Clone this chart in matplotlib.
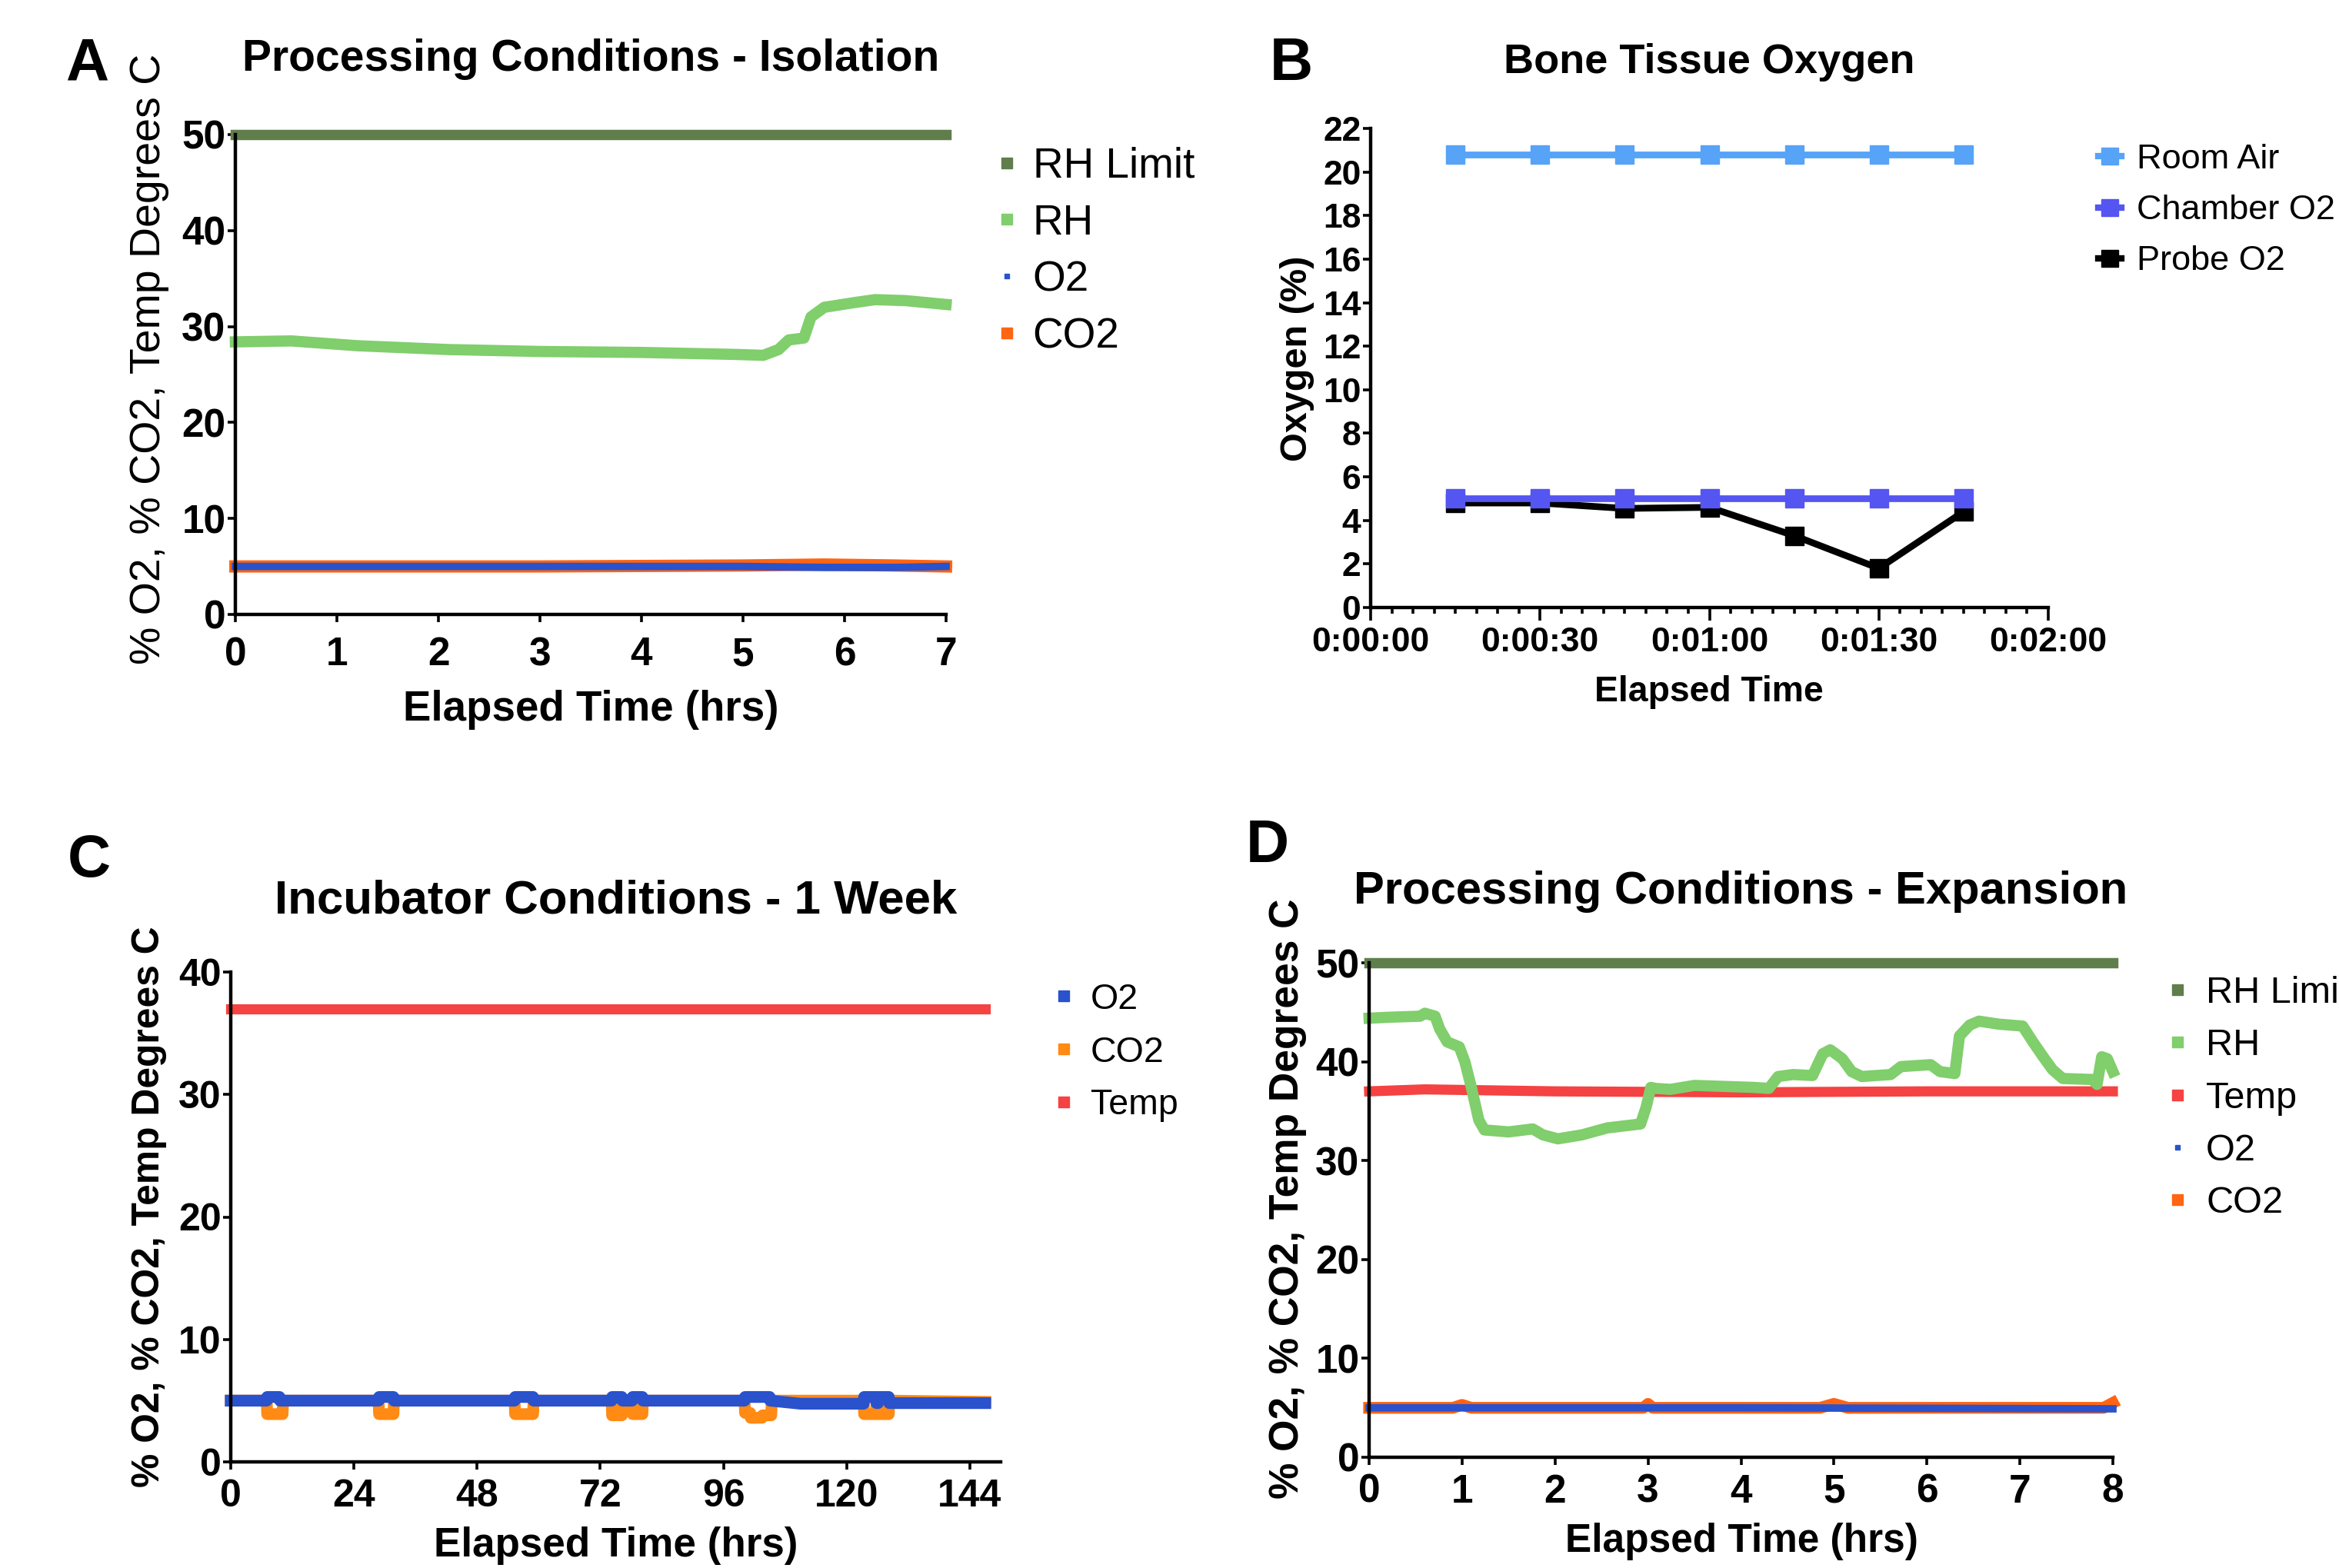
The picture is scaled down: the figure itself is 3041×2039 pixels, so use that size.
import matplotlib
matplotlib.use('Agg')
import matplotlib.pyplot as plt
from matplotlib.lines import Line2D
from matplotlib.ticker import MultipleLocator

# figure size in pixels (dpi 100)
W, H = 3041, 2039

plt.rcParams['font.family'] = ['Liberation Sans', 'DejaVu Sans']

# colours
C_LIMIT = '#5f7e4b'
C_RH = '#80ce6c'
C_O2 = '#2952cc'
C_CO2 = '#ff6512'
C_CO2_C = '#ff8a14'
C_TEMP = '#f54242'
C_ROOM = '#56a3f7'
C_CHAMBER = '#5555f2'
C_PROBE = '#000000'

# ---- A: Processing Conditions - Isolation ----
a_limit_time = [0, 7]
a_limit = [50, 50]
a_rh_time = [0, 0.55, 1.2, 2.1, 3.0, 4.0, 4.9, 5.2, 5.35, 5.45, 5.6, 5.67, 5.8, 6.1, 6.3, 6.6, 7.0]
a_rh = [28.4, 28.5, 28.0, 27.6, 27.4, 27.3, 27.1, 27.0, 27.6, 28.6, 28.8, 31.0, 32.0, 32.5, 32.8, 32.7, 32.3]
a_gas_time = [0, 3.0, 5.0, 5.8, 6.5, 7.0]
a_o2 = [5.0, 5.0, 5.0, 4.9, 4.9, 5.0]
a_co2 = [5.0, 5.0, 5.1, 5.2, 5.1, 5.0]
a_labels = ['RH Limit', 'RH', 'O2', 'CO2']

# ---- B: Bone Tissue Oxygen ----
b_time_s = [15, 30, 45, 60, 75, 90, 105]
b_room = [20.8, 20.8, 20.8, 20.8, 20.8, 20.8, 20.8]
b_chamber = [5.0, 5.0, 5.0, 5.0, 5.0, 5.0, 5.0]
b_probe = [4.8, 4.8, 4.55, 4.6, 3.3, 1.8, 4.4]
b_ticks = [0, 30, 60, 90, 120]
b_tick_labels = ['0:00:00', '0:00:30', '0:01:00', '0:01:30', '0:02:00']
b_labels = ['Room Air', 'Chamber O2', 'Probe O2']

# ---- C: Incubator Conditions - 1 Week ----
c_temp_time = [0, 147]
c_temp = [37.0, 37.0]
c_co2_time = [0, 7.0, 7.1, 10.1, 10.2, 28.8, 28.9, 31.7, 31.8, 55.3,
              55.4, 58.9, 59.0, 74.2, 74.3, 76.2, 76.3, 78.2, 78.3, 80.2,
              80.3, 100.1, 100.2, 101.2, 101.3, 103.5, 103.6, 105.3, 105.4, 123.3,
              123.4, 125.7, 125.8, 126.1, 126.2, 128.2, 128.3, 147]
c_co2 = [5.0, 5.0, 3.9, 3.9, 5.0, 5.0, 3.9, 3.9, 5.0, 5.0,
         3.9, 3.9, 5.0, 5.0, 3.8, 3.8, 5.0, 5.0, 3.9, 3.9,
         5.0, 5.0, 4.0, 4.0, 3.6, 3.6, 3.8, 3.8, 5.0, 5.0,
         3.9, 3.9, 5.0, 5.0, 3.9, 3.9, 5.0, 4.9]
c_o2_time = [0, 7.0, 7.1, 9.5, 9.6, 28.8, 28.9, 31.7, 31.8, 55.3,
             55.4, 58.9, 59.0, 74.2, 74.3, 76.2, 76.3, 78.2, 78.3, 80.2,
             80.3, 100.1, 100.2, 105.0, 105.1, 111, 123.3, 123.4, 125.7, 125.8,
             126.1, 126.2, 128.2, 128.3, 131, 147]
c_o2 = [5.0, 5.0, 5.3, 5.3, 5.0, 5.0, 5.3, 5.3, 5.0, 5.0,
        5.3, 5.3, 5.0, 5.0, 5.3, 5.3, 5.0, 5.0, 5.3, 5.3,
        5.0, 5.0, 5.3, 5.3, 5.0, 4.75, 4.75, 5.3, 5.3, 4.8,
        4.8, 5.3, 5.3, 4.8, 4.8, 4.8]
c_labels = ['O2', 'CO2', 'Temp']

# ---- D: Processing Conditions - Expansion ----
d_limit_time = [0, 8]
d_limit = [50, 50]
d_rh_time = [0, 0.23, 0.55, 0.6, 0.71, 0.76, 0.84, 0.97, 1.03, 1.1,
             1.18, 1.24, 1.5, 1.76, 1.87, 2.03, 2.29, 2.56, 2.92, 2.98,
             3.03, 3.08, 3.24, 3.5, 4.13, 4.3, 4.4, 4.56, 4.77, 4.88,
             4.96, 5.09, 5.19, 5.3, 5.61, 5.72, 6.04, 6.14, 6.3, 6.35,
             6.46, 6.56, 6.77, 7.03, 7.14, 7.25, 7.35, 7.46, 7.78, 7.83,
             7.88, 7.94, 8.0]
d_rh = [44.4, 44.5, 44.6, 44.9, 44.6, 43.3, 42.0, 41.5, 40.0, 37.4,
        34.1, 33.1, 32.9, 33.2, 32.6, 32.2, 32.6, 33.3, 33.7, 35.4,
        37.4, 37.3, 37.2, 37.6, 37.4, 37.3, 38.5, 38.7, 38.6, 40.8,
        41.2, 40.3, 39.0, 38.5, 38.7, 39.5, 39.7, 39.0, 38.8, 42.6,
        43.7, 44.1, 43.8, 43.6, 42.0, 40.5, 39.2, 38.3, 38.2, 37.7,
        40.5, 40.3, 39.0]
d_temp_time = [0, 0.6, 2.0, 4.0, 6.0, 8.0]
d_temp = [37.0, 37.2, 37.0, 36.9, 37.0, 37.0]
d_o2_time = [0, 4.0, 8.0]
d_o2 = [5.0, 5.0, 4.9]
d_co2_time = [0, 0.9, 1.0, 1.1, 2.95, 3.0, 3.05, 4.85, 5.0, 5.15, 7.9, 8.0]
d_co2 = [5.0, 5.0, 5.3, 5.0, 5.0, 5.4, 5.0, 5.0, 5.4, 5.0, 5.0, 5.5]
d_labels = ['RH Limit', 'RH', 'Temp', 'O2', 'CO2']


def fx(px):
    return px / W


def fy(py):
    return 1 - py / H


def make_axes(fig, left, top, right, bottom):
    return fig.add_axes([fx(left), fy(bottom), (right - left) / W, (bottom - top) / H])


def style_axes(ax, tick_size, xpad=8):
    for side in ['top', 'right']:
        ax.spines[side].set_visible(False)
    for side in ['left', 'bottom']:
        ax.spines[side].set_linewidth(3.2)
    ax.tick_params(which='major', direction='out', width=2.6, length=7,
                   labelsize=tick_size)
    ax.tick_params(axis='x', pad=xpad)
    ax.tick_params(axis='y', pad=2)
    for lab in ax.get_xticklabels() + ax.get_yticklabels():
        lab.set_fontweight('bold')


def key(color, ms, line=False):
    return Line2D([], [], color=color, marker='s', markersize=ms,
                  linestyle='-' if line else 'none', linewidth=6)


def add_legend(fig, ax, handles, labels, left, first_center, pitch, size_pt,
               hl=0.5, htp=0.45):
    f = size_pt * 100 / 72
    ls = (pitch - 0.94 * f) / f
    top = first_center - 0.37 * f
    ax.legend(handles, labels, loc='upper left',
              bbox_to_anchor=(fx(left), fy(top)), bbox_transform=fig.transFigure,
              frameon=False, fontsize=size_pt, handlelength=hl,
              handletextpad=htp, labelspacing=ls, borderpad=0, borderaxespad=0)


def panel_text(fig, letter, lx, ly, title, tx, ty, title_size,
               ylabel, yx, yy, ylabel_bold, ylab_size,
               xlabel, xx, xy, xlab_size):
    fig.text(fx(lx), fy(ly), letter, fontweight='bold', fontsize=56,
             ha='left', va='baseline')
    fig.text(fx(tx), fy(ty), title, fontweight='bold', fontsize=title_size,
             ha='center', va='baseline')
    fig.text(fx(yx), fy(yy), ylabel,
             fontweight='bold' if ylabel_bold else 'normal', fontsize=ylab_size,
             rotation=90, ha='center', va='center')
    fig.text(fx(xx), fy(xy), xlabel, fontweight='bold', fontsize=xlab_size,
             ha='center', va='baseline')


fig = plt.figure(figsize=(W / 100, H / 100), dpi=100)

# ---------- A ----------
ax = make_axes(fig, 306, 175, 1230, 799)
ax.plot(a_limit_time, a_limit, color=C_LIMIT, lw=9.7, solid_capstyle='projecting', clip_on=False)
ax.plot(a_rh_time, a_rh, color=C_RH, lw=10.5, clip_on=False)
ax.plot(a_gas_time, a_co2, color=C_CO2, lw=11.5, clip_on=False)
ax.plot(a_gas_time, a_o2, color=C_O2, lw=7, clip_on=False)
ax.set_xlim(0, 7)
ax.set_ylim(0, 50)
ax.set_xticks(range(0, 8))
ax.set_yticks(range(0, 51, 10))
style_axes(ax, 37, xpad=13.5)
add_legend(fig, ax, [key(C_LIMIT, 10.5), key(C_RH, 10.5), key(C_O2, 5), key(C_CO2, 10.5)],
           a_labels, 1296, 211, 73.5, 39.5, hl=0.47, htp=0.38)
panel_text(fig, 'A', 85, 104, 'Processing Conditions - Isolation', 768, 92, 41,
           '% O2, % CO2, Temp Degrees C', 194, 467, False, 40,
           'Elapsed Time (hrs)', 768, 937, 39.3)

# ---------- B ----------
ax = make_axes(fig, 1782, 167, 2663, 790)
ax.plot(b_time_s, b_probe, color=C_PROBE, lw=6.3, marker='s', ms=17, zorder=3, clip_on=False)
ax.plot(b_time_s, b_room, color=C_ROOM, lw=6.3, marker='s', ms=17, zorder=4, clip_on=False)
ax.plot(b_time_s, b_chamber, color=C_CHAMBER, lw=6.3, marker='s', ms=17, zorder=5, clip_on=False)
ax.set_xlim(0, 120)
ax.set_ylim(0, 22)
ax.set_xticks(b_ticks)
ax.set_xticklabels(b_tick_labels)
ax.xaxis.set_minor_locator(MultipleLocator(3.75))
ax.set_yticks(range(0, 23, 2))
style_axes(ax, 32, xpad=6)
ax.tick_params(which='minor', direction='out', width=2.6, length=6)
ax.tick_params(which='major', axis='x', length=12)
add_legend(fig, ax, [key(C_ROOM, 16, True), key(C_CHAMBER, 16, True), key(C_PROBE, 16, True)],
           b_labels, 2728, 204, 67.5, 32.5, hl=0.67, htp=0.44)
panel_text(fig, 'B', 1651, 104, 'Bone Tissue Oxygen', 2222, 95, 39,
           'Oxygen (%)', 1687, 466, True, 35,
           'Elapsed Time', 2222, 912, 33.4)

# ---------- C ----------
ax = make_axes(fig, 300, 1264, 1301, 1901)
ax.plot(c_temp_time, c_temp, color=C_TEMP, lw=9.5, clip_on=False)
ax.plot(c_co2_time, c_co2, color=C_CO2_C, lw=11, clip_on=False)
ax.plot(c_o2_time, c_o2, color=C_O2, lw=11, clip_on=False)
ax.set_xlim(0, 150)
ax.set_ylim(0, 40)
ax.set_xticks(range(0, 145, 24))
ax.set_yticks(range(0, 41, 10))
style_axes(ax, 36, xpad=9)
add_legend(fig, ax, [key(C_O2, 10), key(C_CO2_C, 10), key(C_TEMP, 10)],
           c_labels, 1371, 1295, 68.5, 33.5, hl=0.5, htp=0.5)
panel_text(fig, 'C', 88, 1140, 'Incubator Conditions - 1 Week', 801, 1188, 44.5,
           '% O2, % CO2, Temp Degrees C', 194, 1569, True, 35.8,
           'Elapsed Time (hrs)', 801, 2024, 38.2)

# ---------- D ----------
ax = make_axes(fig, 1780, 1252, 2747, 1895)
ax.plot(d_limit_time, d_limit, color=C_LIMIT, lw=9.7, solid_capstyle='projecting', clip_on=False)
ax.plot(d_temp_time, d_temp, color=C_TEMP, lw=9.5, clip_on=False)
ax.plot(d_rh_time, d_rh, color=C_RH, lw=10.5, clip_on=False)
ax.plot(d_co2_time, d_co2, color=C_CO2, lw=11, clip_on=False)
ax.plot(d_o2_time, d_o2, color=C_O2, lw=7, clip_on=False)
ax.set_xlim(0, 8)
ax.set_ylim(0, 50)
ax.set_xticks(range(0, 9))
ax.set_yticks(range(0, 51, 10))
style_axes(ax, 37)
add_legend(fig, ax, [key(C_LIMIT, 10.5), key(C_RH, 10.5), key(C_TEMP, 10.5), key(C_O2, 5), key(C_CO2, 10.5)],
           d_labels, 2819, 1287, 69, 35, hl=0.5, htp=0.51)
panel_text(fig, 'D', 1620, 1121, 'Processing Conditions - Expansion', 2263, 1175, 43,
           '% O2, % CO2, Temp Degrees C', 1674, 1559, True, 38.3,
           'Elapsed Time (hrs)', 2264, 2018, 37)

fig.savefig('out.png', dpi=100)
